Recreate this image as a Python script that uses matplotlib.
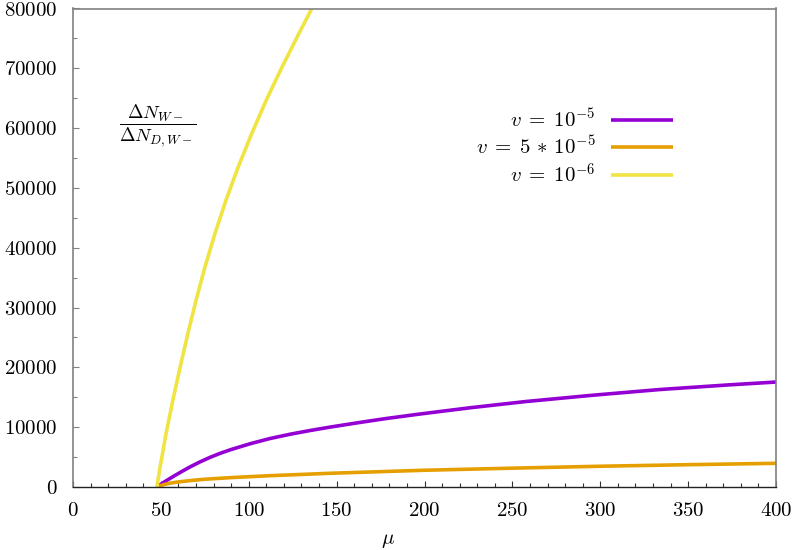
import matplotlib
matplotlib.use("Agg")
import matplotlib.pyplot as plt
from matplotlib.ticker import MultipleLocator, FuncFormatter

plt.rcParams['font.family'] = 'serif'
plt.rcParams['font.serif'] = ['cmr10', 'DejaVu Serif']
plt.rcParams['mathtext.fontset'] = 'cm'
plt.rcParams['axes.unicode_minus'] = False

# data
mu_a = [48.0, 50, 52, 55, 58, 62, 67, 72, 78, 84, 90, 101, 112, 124, 135, 146, 160, 177, 196, 226, 258, 296, 334, 372, 400]
val_a = [0, 450, 850, 1400, 1930, 2610, 3420, 4160, 4960, 5660, 6270, 7250, 8100, 8850, 9450, 10000, 10650, 11400, 12150, 13250, 14300, 15350, 16300, 17050, 17550]

mu_b = [48.0, 50, 52, 55, 60, 67, 75, 90, 112, 146, 200, 250, 300, 350, 400]
val_b = [0, 230, 420, 630, 850, 1080, 1300, 1570, 1890, 2290, 2800, 3150, 3470, 3730, 3960]

mu_c = [47.7, 49.6, 53.0, 56.8, 61.0, 65.4, 70.1, 75.1, 80.8, 87.1, 94.0, 101.7, 110.0, 119.0, 128.5, 135.9]
val_c = [0, 3400, 9000, 14500, 20100, 25700, 31300, 36800, 42400, 48000, 53500, 59100, 64700, 70250, 75800, 80000]

labels = [r'$v\;=\;10^{-5}$', r'$v\;=\;5\,*\,10^{-5}$', r'$v\;=\;10^{-6}$']
colors = ['#9400D3', '#E69F00', '#F0E442']

fig = plt.figure(figsize=(7.93, 5.5), dpi=100)
ax = fig.add_axes([73/793, 63/550, 703/793, 478.5/550])

ax.plot(mu_a, val_a, color=colors[0], lw=2.6, label=labels[0], solid_capstyle='butt')
ax.plot(mu_b, val_b, color=colors[1], lw=2.6, label=labels[1], solid_capstyle='butt')
ax.plot(mu_c, val_c, color=colors[2], lw=2.6, label=labels[2], solid_capstyle='butt')

ax.set_xlim(0, 400)
ax.set_ylim(0, 80000)
ax.xaxis.set_major_locator(MultipleLocator(50))
ax.xaxis.set_minor_locator(MultipleLocator(10))
ax.yaxis.set_major_locator(MultipleLocator(10000))
ax.yaxis.set_minor_locator(MultipleLocator(5000))
fmt = FuncFormatter(lambda v, p: r'$%d$' % int(round(v)))
ax.xaxis.set_major_formatter(fmt)
ax.yaxis.set_major_formatter(fmt)

ax.tick_params(which='both', direction='in', top=False, right=False, labelsize=15, pad=11)
ax.tick_params(which='major', length=4.5, width=0.8)
ax.tick_params(which='minor', length=3, width=0.8)
ax.tick_params(axis='y', which='both', color='#808080')
ax.tick_params(axis='x', which='both', color='#333333')

for s in ['left', 'top', 'right']:
    ax.spines[s].set_color('#808080')
    ax.spines[s].set_linewidth(1.2)
ax.spines['bottom'].set_color('#222222')
ax.spines['bottom'].set_linewidth(1.0)

ax.set_xlabel(r'$\mu$', fontsize=15)
ax.xaxis.set_label_coords((388-73)/703, -0.095)

ax.text((158-73)/703, (487-126)/478.5, r'$\dfrac{\Delta N_{W-}}{\Delta N_{D,W-}}$',
        transform=ax.transAxes, ha='center', va='center', fontsize=13.5)

leg = ax.legend(loc='upper right', bbox_to_anchor=((673-73)/703, (487-108)/478.5),
                frameon=False, markerfirst=False, fontsize=15, handlelength=3.0,
                handletextpad=0.7, labelspacing=0.18, borderpad=0, borderaxespad=0)

fig.savefig('out.png', dpi=100)
